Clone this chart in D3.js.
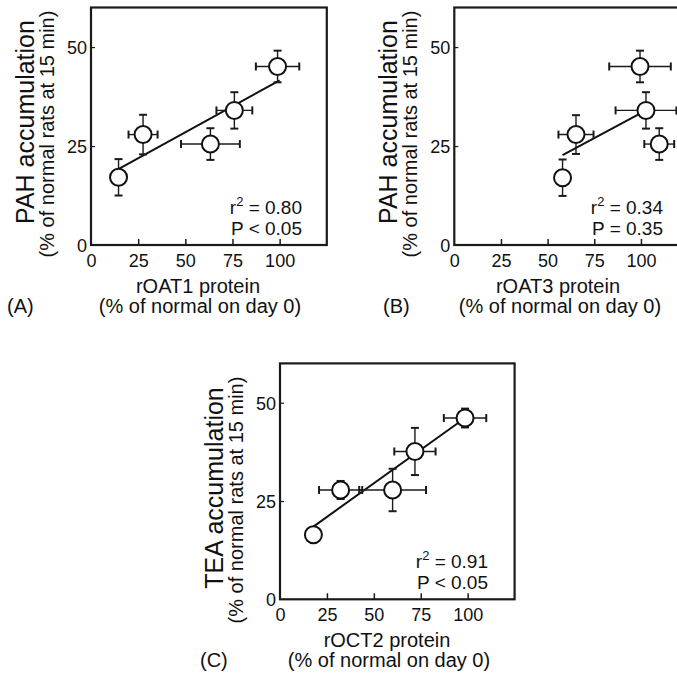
<!DOCTYPE html>
<html>
<head>
<meta charset="utf-8">
<script src="https://cdn.jsdelivr.net/npm/d3@7/dist/d3.min.js"></script>
<style>
  html, body { margin: 0; padding: 0; background: #fff; }
  svg { display: block; }
  text { font-family: "Liberation Sans", Arial, Helvetica, sans-serif; fill: #111; }
</style>
</head>
<body>
<svg id="chart" width="677" height="673"></svg>
<script>
// ---------- data ----------
const xTicks = [0, 25, 50, 75, 100];
const yTicks = [0, 25, 50];

// Panel A: rOAT1 vs PAH
const proteinA = [14.6, 27.6, 63.3, 76.0, 98.9];
const pahA     = [17.1, 27.9, 25.5, 34.0, 45.1];
const xErrA    = [0, 7.7, 15.6, 9.5, 11.5];
const yErrA    = [4.6, 5.0, 4.0, 4.6, 4.0];
const fitXA    = [15, 100];
const fitYA    = [19.3, 41.6];
const statsA   = ["0.80", "P < 0.05"];

// Panel B: rOAT3 vs PAH
const proteinB = [58.0, 65.2, 99.5, 102.7, 109.8];
const pahB     = [17.0, 27.9, 45.1, 34.0, 25.5];
const xErrB    = [0, 9.4, 16.5, 16.3, 8.0];
const yErrB    = [4.6, 4.9, 4.0, 4.6, 4.0];
const fitXB    = [58, 102.7];
const fitYB    = [22.7, 34.0];
const statsB   = ["0.34", "P = 0.35"];

// Panel C: rOCT2 vs TEA
const proteinC = [17.8, 32.3, 60.0, 71.9, 98.6];
const teaC     = [16.4, 27.8, 27.8, 37.6, 46.1];
const xErrC    = [0, 11.5, 17.8, 11.0, 11.3];
const yErrC    = [0, 2.3, 5.4, 6.0, 2.4];
const fitXC    = [17.8, 98.6];
const fitYC    = [18.5, 46.1];
const statsC   = ["0.91", "P < 0.05"];

const svg = d3.select("#chart");

function panel(cfg) {
  const x = d3.scaleLinear().domain([0, 125]).range([cfg.left, cfg.right]);
  const y = d3.scaleLinear().domain([0, 60]).range([cfg.bottom, cfg.top]);
  const g = svg.append("g");

  // frame
  g.append("rect")
    .attr("x", cfg.left).attr("y", cfg.top)
    .attr("width", cfg.right - cfg.left).attr("height", cfg.bottom - cfg.top)
    .attr("fill", "none").attr("stroke", "#1a1a1a").attr("stroke-width", 2.2);

  // axes (ticks inward)
  const xAxis = d3.axisBottom(x).tickValues(xTicks).tickSize(-6).tickPadding(10).tickSizeOuter(0);
  const gx = g.append("g").attr("transform", `translate(0,${cfg.bottom})`).call(xAxis);
  gx.select(".domain").remove();
  gx.selectAll("line").attr("stroke", "#1a1a1a").attr("stroke-width", 1.5);
  gx.selectAll("text").attr("font-size", 18).attr("fill", "#111")
    .attr("font-family", "Liberation Sans, Arial, sans-serif").attr("dy", null).attr("y", 22);

  const yAxis = d3.axisLeft(y).tickValues(yTicks).tickSize(-4).tickPadding(7).tickSizeOuter(0);
  const gy = g.append("g").attr("transform", `translate(${cfg.left},0)`).call(yAxis);
  gy.select(".domain").remove();
  gy.selectAll("line").attr("stroke", "#1a1a1a").attr("stroke-width", 1.2);
  gy.selectAll("text").attr("font-size", 18).attr("fill", "#111")
    .attr("font-family", "Liberation Sans, Arial, sans-serif").attr("x", -4).attr("dy", "0.36em");
  gx.selectAll(".tick").filter(d => d === 0).select("line").remove();
  gy.selectAll(".tick").filter(d => d === 0).select("line").remove();

  // regression line
  g.append("line")
    .attr("x1", x(cfg.fitX[0])).attr("y1", y(cfg.fitY[0]))
    .attr("x2", x(cfg.fitX[1])).attr("y2", y(cfg.fitY[1]))
    .attr("stroke", "#111").attr("stroke-width", 2);

  const pts = cfg.xs.map((v, i) => ({ x: v, y: cfg.ys[i], ex: cfg.ex[i], ey: cfg.ey[i] }));
  const cap = 4;
  const eb = g.append("g").attr("stroke", "#1a1a1a").attr("stroke-width", 1.4);
  pts.forEach(p => {
    if (p.ex > 0) {
      eb.append("line").attr("x1", x(p.x - p.ex)).attr("x2", x(p.x + p.ex)).attr("y1", y(p.y)).attr("y2", y(p.y));
      eb.append("line").attr("x1", x(p.x - p.ex)).attr("x2", x(p.x - p.ex)).attr("y1", y(p.y) - cap).attr("y2", y(p.y) + cap).attr("stroke-width", 2);
      eb.append("line").attr("x1", x(p.x + p.ex)).attr("x2", x(p.x + p.ex)).attr("y1", y(p.y) - cap).attr("y2", y(p.y) + cap).attr("stroke-width", 2);
    }
    if (p.ey > 0) {
      eb.append("line").attr("y1", y(p.y - p.ey)).attr("y2", y(p.y + p.ey)).attr("x1", x(p.x)).attr("x2", x(p.x));
      eb.append("line").attr("y1", y(p.y - p.ey)).attr("y2", y(p.y - p.ey)).attr("x1", x(p.x) - cap).attr("x2", x(p.x) + cap).attr("stroke-width", 2);
      eb.append("line").attr("y1", y(p.y + p.ey)).attr("y2", y(p.y + p.ey)).attr("x1", x(p.x) - cap).attr("x2", x(p.x) + cap).attr("stroke-width", 2);
    }
  });

  g.selectAll("circle.pt").data(pts).join("circle").attr("class", "pt")
    .attr("cx", d => x(d.x)).attr("cy", d => y(d.y)).attr("r", 8.5)
    .attr("fill", "#fff").attr("stroke", "#111").attr("stroke-width", 2);

  // stats
  const st = g.append("text").attr("x", cfg.statX).attr("y", cfg.bottom - 31)
    .attr("text-anchor", "end").attr("font-size", 19);
  st.append("tspan").text("r");
  st.append("tspan").attr("font-size", 13).attr("dy", -8).text("2");
  st.append("tspan").attr("dy", 8).text(" = " + cfg.stats[0]);
  g.append("text").attr("x", cfg.statX).attr("y", cfg.bottom - 10)
    .attr("text-anchor", "end").attr("font-size", 19).text(cfg.stats[1]);

  // y label
  const cy = cfg.yLabelCenter;
  g.append("text").attr("transform", `translate(${cfg.left - 57},${cy}) rotate(-90)`)
    .attr("text-anchor", "middle").attr("font-size", 25).text(cfg.yLabel1);
  g.append("text").attr("transform", `translate(${cfg.left - 37},${cy + 12}) rotate(-90)`)
    .attr("text-anchor", "middle").attr("font-size", 20).text("(% of normal rats at 15 min)");

  // x label
  const cx = cfg.xLabelCenter;
  g.append("text").attr("x", cx).attr("y", cfg.bottom + 48)
    .attr("text-anchor", "middle").attr("font-size", 20).text(cfg.xLabel);
  g.append("text").attr("x", cx + 2).attr("y", cfg.bottom + 68)
    .attr("text-anchor", "middle").attr("font-size", 20).text("(% of normal on day 0)");
  g.append("text").attr("x", cfg.tagX).attr("y", cfg.bottom + 68)
    .attr("font-size", 20).text(cfg.tag);
}

panel({ left: 91, right: 326.8, top: 7.5, bottom: 245,
  xs: proteinA, ys: pahA, ex: xErrA, ey: yErrA, fitX: fitXA, fitY: fitYA, stats: statsA,
  statX: 302, yLabel1: "PAH accumulation", yLabelCenter: 122, xLabel: "rOAT1 protein", xLabelCenter: 198,
  tag: "(A)", tagX: 7 });

panel({ left: 454.3, right: 687.6, top: 7.5, bottom: 245,
  xs: proteinB, ys: pahB, ex: xErrB, ey: yErrB, fitX: fitXB, fitY: fitYB, stats: statsB,
  statX: 663, yLabel1: "PAH accumulation", yLabelCenter: 122, xLabel: "rOAT3 protein", xLabelCenter: 558,
  tag: "(B)", tagX: 383 });

panel({ left: 280, right: 514.6, top: 363.4, bottom: 599.3,
  xs: proteinC, ys: teaC, ex: xErrC, ey: yErrC, fitX: fitXC, fitY: fitYC, stats: statsC,
  statX: 488, yLabel1: "TEA accumulation", yLabelCenter: 488, xLabel: "rOCT2 protein", xLabelCenter: 387,
  tag: "(C)", tagX: 200 });
</script>
</body>
</html>
